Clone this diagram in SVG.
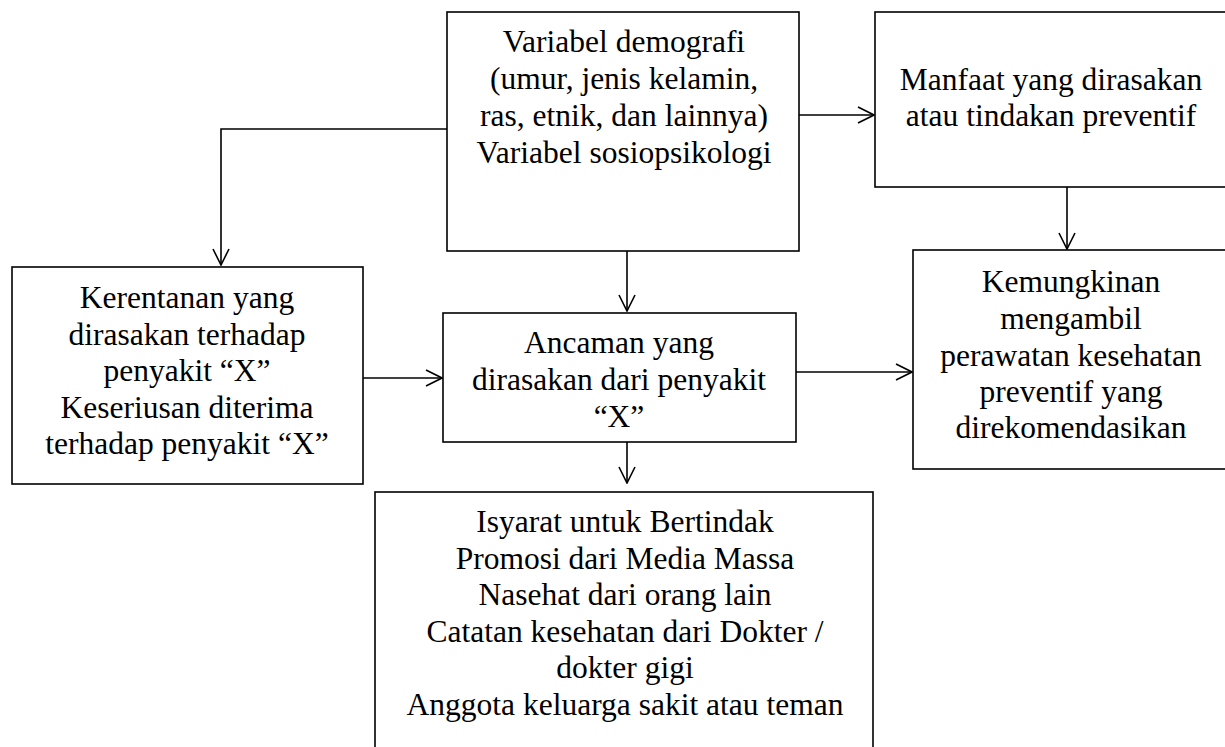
<svg xmlns="http://www.w3.org/2000/svg" width="1225" height="747" viewBox="0 0 1225 747">
<defs>
<style>
.box{fill:#fff;stroke:#000;stroke-width:1.6}
.t{font-family:"Liberation Serif","Times New Roman",serif;font-size:31.5px;fill:#000;text-anchor:middle}
.c{fill:none;stroke:#000;stroke-width:1.6}
</style>
<marker id="arr" viewBox="0 0 18 18" refX="17" refY="9" markerWidth="18" markerHeight="18" markerUnits="userSpaceOnUse" orient="auto">
<path d="M1,1 L17,9 L1,17" fill="none" stroke="#000" stroke-width="1.6"/>
</marker>
</defs>
<rect width="1225" height="747" fill="#fff"/>
<g id="connectors">
<path class="c" d="M799,115 H874" marker-end="url(#arr)"/>
<path class="c" d="M1067,187 V249" marker-end="url(#arr)"/>
<path class="c" d="M447,129 H221 V265" marker-end="url(#arr)"/>
<path class="c" d="M627,251 V311" marker-end="url(#arr)"/>
<path class="c" d="M363,378 H442" marker-end="url(#arr)"/>
<path class="c" d="M796,372 H912" marker-end="url(#arr)"/>
<path class="c" d="M627,442 V483" marker-end="url(#arr)"/>
</g>
<g id="node-demografi">
<rect class="box" x="447" y="12" width="352" height="239"/>
<text class="t" x="624" y="52">Variabel demografi</text>
<text class="t" x="624" y="89">(umur, jenis kelamin,</text>
<text class="t" x="624" y="126">ras, etnik, dan lainnya)</text>
<text class="t" x="624" y="163">Variabel sosiopsikologi</text>
</g>
<g id="node-manfaat">
<rect class="box" x="875" y="12" width="352" height="175"/>
<text class="t" x="1051" y="90">Manfaat yang dirasakan</text>
<text class="t" x="1051" y="126">atau tindakan preventif</text>
</g>
<g id="node-kerentanan">
<rect class="box" x="12" y="267" width="351" height="217"/>
<text class="t" x="187" y="308">Kerentanan yang</text>
<text class="t" x="187" y="344.5">dirasakan terhadap</text>
<text class="t" x="187" y="381">penyakit “X”</text>
<text class="t" x="187" y="417.5">Keseriusan diterima</text>
<text class="t" x="187" y="454">terhadap penyakit “X”</text>
</g>
<g id="node-ancaman">
<rect class="box" x="443" y="313" width="353" height="129"/>
<text class="t" x="619" y="353">Ancaman yang</text>
<text class="t" x="619" y="390">dirasakan dari penyakit</text>
<text class="t" x="619" y="427">“X”</text>
</g>
<g id="node-kemungkinan">
<rect class="box" x="913" y="250" width="314" height="219"/>
<text class="t" x="1071" y="292">Kemungkinan</text>
<text class="t" x="1071" y="329">mengambil</text>
<text class="t" x="1071" y="366">perawatan kesehatan</text>
<text class="t" x="1071" y="402">preventif yang</text>
<text class="t" x="1071" y="438">direkomendasikan</text>
</g>
<g id="node-isyarat">
<rect class="box" x="375" y="492" width="498" height="270"/>
<text class="t" x="625" y="532">Isyarat untuk Bertindak</text>
<text class="t" x="625" y="568.5">Promosi dari Media Massa</text>
<text class="t" x="625" y="605">Nasehat dari orang lain</text>
<text class="t" x="625" y="641.5">Catatan kesehatan dari Dokter /</text>
<text class="t" x="625" y="678">dokter gigi</text>
<text class="t" x="625" y="714.5">Anggota keluarga sakit atau teman</text>
</g>
</svg>
